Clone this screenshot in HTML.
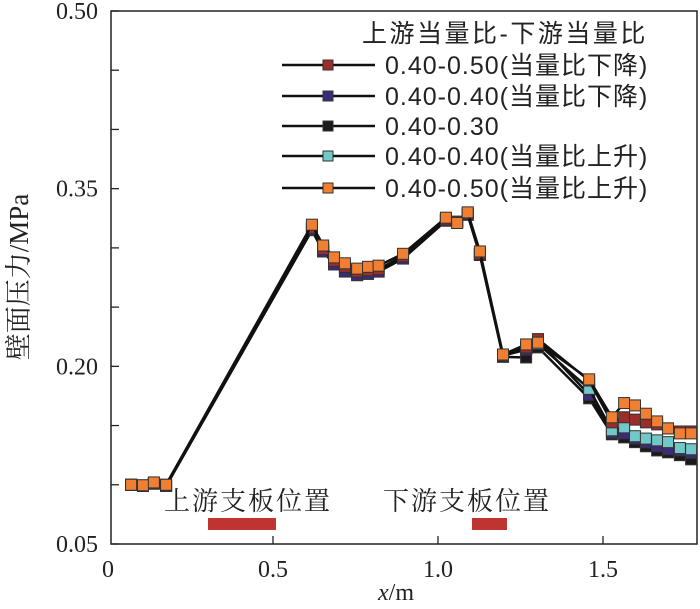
<!DOCTYPE html>
<html><head><meta charset="utf-8"><style>
html,body{margin:0;padding:0;background:#fff;}
svg text{font-family:"Liberation Serif","Noto Serif CJK SC","Noto Sans CJK SC",serif;fill:#222;}
svg text.sans{font-family:"Liberation Sans","Noto Sans CJK SC",sans-serif;}
</style></head><body>
<svg id="chart" width="700" height="604" viewBox="0 0 700 604" xmlns="http://www.w3.org/2000/svg">
<g id="axes"></g>
<g id="series"></g>
<g id="legend"></g>
</svg>
<script>
const xs = [0.07,0.106,0.139,0.176,0.618,0.652,0.685,0.718,0.755,0.788,0.82,0.894,1.024,1.058,1.09,1.127,1.197,1.267,1.303,1.458,1.527,1.564,1.597,1.63,1.664,1.697,1.733,1.767];
const sUp50 = [0.100,0.0996,0.102,0.100,0.3196,0.302,0.292,0.287,0.2825,0.284,0.285,0.295,0.3255,0.321,0.330,0.297,0.210,0.2185,0.220,0.189,0.157,0.169,0.167,0.160,0.1535,0.1476,0.1434,0.1434];
const sUp40 = [0.100,0.0990,0.101,0.100,0.318,0.300,0.289,0.284,0.280,0.281,0.282,0.293,0.324,0.322,0.329,0.295,0.209,0.216,0.219,0.181,0.146,0.1485,0.141,0.139,0.1375,0.136,0.131,0.130];
const s30 = [0.100,0.0990,0.101,0.099,0.315,0.297,0.287,0.281,0.277,0.279,0.280,0.291,0.323,0.322,0.328,0.294,0.208,0.2075,0.216,0.173,0.1426,0.140,0.136,0.1325,0.129,0.1274,0.125,0.1215];
const sDn40 = [0.100,0.0990,0.101,0.099,0.315,0.297,0.286,0.280,0.277,0.278,0.280,0.291,0.323,0.322,0.328,0.294,0.209,0.214,0.222,0.176,0.144,0.1434,0.139,0.1358,0.1325,0.130,0.129,0.127];
const sDn50 = [0.100,0.0995,0.101,0.100,0.317,0.299,0.289,0.284,0.280,0.281,0.282,0.293,0.324,0.322,0.329,0.295,0.209,0.216,0.223,0.188,0.1527,0.157,0.155,0.1527,0.151,0.1476,0.145,0.145];
const seriesNames = ["0.40-0.50(当量比下降)","0.40-0.40(当量比下降)","0.40-0.30","0.40-0.40(当量比上升)","0.40-0.50(当量比上升)"];
const seriesColors = ["#9a2e2a","#3b2b7a","#1a1a1a","#72c8c8","#f07f32"];
const xTicks = [0,0.5,1.0,1.5];
const xTickLabels = ["0","0.5","1.0","1.5"];
const yTicks = [0.05,0.10,0.15,0.20,0.25,0.30,0.35,0.40,0.45,0.50];
const yLabelTicks = [0.05,0.20,0.35,0.50];
const yTickLabels = ["0.05","0.20","0.35","0.50"];
const bars = [[0.303,0.509],[1.103,1.209]];

const NS="http://www.w3.org/2000/svg";
const X0=111,X1=697,Y0=544,Y1=11;
const xS=v=>108+v*330;
const yS=v=>544-(v-0.05)*(533/0.45);
function mk(tag,attrs,parent){const e=document.createElementNS(NS,tag);for(const k in attrs)e.setAttribute(k,attrs[k]);parent.appendChild(e);return e;}
const axes=document.getElementById('axes');
const frame=mk('rect',{x:X0,y:Y1,width:X1-X0,height:Y0-Y1,fill:'none',stroke:'#222','stroke-width':1.5},axes);


yTicks.forEach(v=>{const t=mk('line',{x1:X0,x2:X0+8,y1:yS(v),y2:yS(v),stroke:'#222','stroke-width':1.3},axes);

});
yLabelTicks.forEach((v,i)=>{const t=mk('text',{x:98,y:yS(v)+8,'text-anchor':'end','font-size':24},axes);t.textContent=yTickLabels[i];

});
xTicks.forEach((v,i)=>{if(v>0){const t=mk('line',{x1:xS(v),x2:xS(v),y1:Y0,y2:Y0-8,stroke:'#222','stroke-width':1.3},axes);

}
const l=mk('text',{x:xS(v),y:577,'text-anchor':'middle','font-size':24},axes);l.textContent=xTickLabels[i];

});
const xt=mk('text',{x:396,y:600,'text-anchor':'middle','font-size':24},axes);
xt.innerHTML='<tspan font-style="italic">x</tspan>/m';


const yt=mk('text',{x:0,y:0,'text-anchor':'middle','font-size':27,transform:'translate(28,277) rotate(-90)'},axes);
yt.textContent='壁面压力/MPa';


bars.forEach((b,i)=>{const r=mk('rect',{x:xS(b[0]),y:518,width:xS(b[1])-xS(b[0]),height:12,fill:'#bf3330'},axes);

});
const a1=mk('text',{x:164,y:510,'font-size':26,'letter-spacing':2},axes);a1.textContent='上游支板位置';


const a2=mk('text',{x:383,y:510,'font-size':26,'letter-spacing':2},axes);a2.textContent='下游支板位置';



const sg=document.getElementById('series');
const all=[sDn50,sDn40,s30,sUp40,sUp50];
const order=[2,1,3,0,4];
order.forEach(si=>{const d=all[si];
const pl=mk('polyline',{points:xs.map((x,i)=>xS(x)+','+yS(d[i])).join(' '),fill:'none',stroke:'#111','stroke-width':2.5},sg);


xs.forEach((x,i)=>{const r=mk('rect',{x:xS(x)-5.5,y:yS(d[i])-5.5,width:11,height:11,fill:seriesColors[si],stroke:'#333','stroke-width':1},sg);

});});

const lg=document.getElementById('legend');
const lt=mk('text',{x:362,y:42,'font-size':25,'class':'sans','letter-spacing':2.5},lg);lt.textContent='上游当量比-下游当量比';


const ly=[65,96,126,156,188];
seriesNames.forEach((n,i)=>{const g=mk('g',{},lg);


mk('line',{x1:282,x2:375,y1:ly[i],y2:ly[i],stroke:'#111','stroke-width':2.5},g);
mk('rect',{x:323,y:ly[i]-5,width:10,height:10,fill:seriesColors[i],stroke:'#333','stroke-width':1},g);
const t=mk('text',{x:385,y:ly[i]+9,'font-size':25,'class':'sans','letter-spacing':1},g);t.textContent=n;});
</script>
</body></html>
